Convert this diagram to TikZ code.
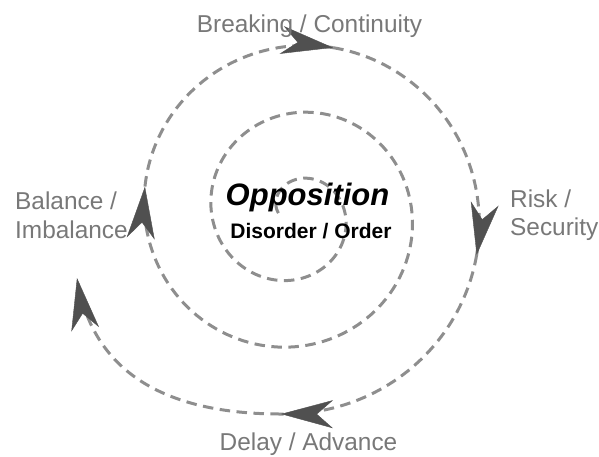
\documentclass[tikz,border=0pt]{standalone}
\usepackage{fontspec}
\setmainfont{Liberation Sans}
\usetikzlibrary{arrows.meta,decorations.markings}
\definecolor{dashc}{HTML}{8E8E8E}
\definecolor{arrc}{HTML}{505050}
\definecolor{labc}{HTML}{787878}
\begin{document}
\begin{tikzpicture}[x=1pt,y=-1pt,
  spiral/.style={draw=dashc, line width=3pt, dash pattern=on 10.5pt off 6.5pt},
  headed/.style={postaction={decorate}, decoration={markings, mark=at position 0.9999 with {\arrow{Stealth[length=52pt,width=28pt,inset=16pt,line width=0.4pt,color=arrc]}}}},
  lab/.style={text=labc, font=\fontsize{24.4}{29}\selectfont, inner sep=0pt},
  title/.style={text=black, font=\fontsize{31}{36}\selectfont\bfseries\itshape, inner sep=0pt},
  subtitle/.style={text=black, font=\fontsize{21}{25}\selectfont\bfseries, inner sep=0pt}
]
\useasboundingbox (0,0) rectangle (599,456);
% spiral segments (clockwise on screen), r = 50 + 67*t/360
\draw[spiral,headed] plot[domain=-180:550, samples=300, variable=\t]
  ({295+(50+\t/360*67)*cos(\t)},{213+(50+\t/360*67)*sin(\t)});
\draw[spiral,headed] plot[domain=550:643, samples=60, variable=\t]
  ({295+(50+\t/360*67)*cos(\t)},{213+(50+\t/360*67)*sin(\t)});
\draw[spiral,headed] plot[domain=643:733, samples=60, variable=\t]
  ({295+(50+\t/360*67)*cos(\t)},{213+(50+\t/360*67)*sin(\t)});
\draw[spiral,headed] plot[domain=733:814, samples=60, variable=\t]
  ({295+(50+\t/360*67)*cos(\t)},{213+(50+\t/360*67)*sin(\t)});
\coordinate (tailstart) at ({295+(50+814/360*67)*cos(814)},{213+(50+814/360*67)*sin(814)});
\coordinate (tailend) at (77,278);
\draw[spiral,headed] (tailstart) .. controls (165,414) and (92,372) .. (tailend);
% labels
\node[lab, anchor=base] (brk) at (309.5,32) {Breaking / Continuity};
\node[lab, anchor=base west] (bal) at (15,209) {Balance /};
\node[lab, anchor=base west] (imb) at (15,238) {Imbalance};
\node[lab, anchor=base west] (risk) at (510,207) {Risk /};
\node[lab, anchor=base west] (sec) at (510,235) {Security};
\node[lab, anchor=base] (del) at (308.5,450) {Delay / Advance};
\node[title, anchor=base] (opp) at (307.5,205) {Opposition};
\node[subtitle, anchor=base] (dis) at (311,238) {Disorder / Order};
\end{tikzpicture}
\end{document}
